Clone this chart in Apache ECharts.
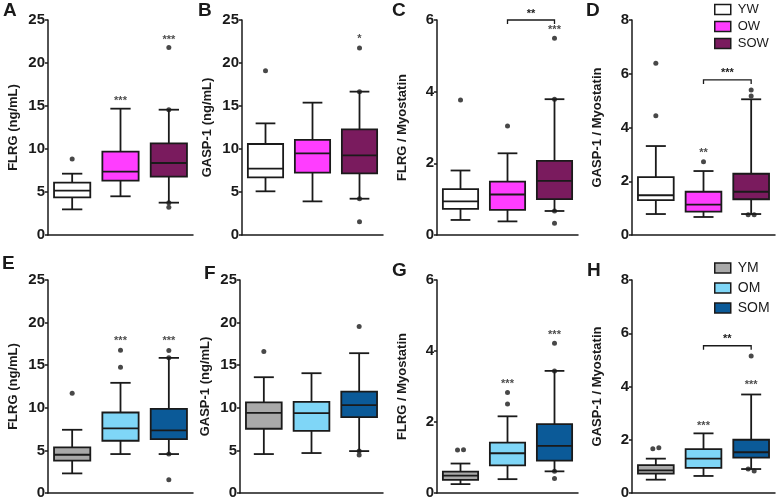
<!DOCTYPE html>
<html>
<head>
<meta charset="utf-8">
<script src="https://cdn.jsdelivr.net/npm/echarts@6/dist/echarts.min.js"></script>
<style>
html,body{margin:0;padding:0;background:#fff;}
#chart{width:778px;height:501px;}
</style>
</head>
<body>
<div id="chart"></div>
<script>
// ---------- DATA ----------
const groupsW = ['YW', 'OW', 'SOW'];
const groupsM = ['YM', 'OM', 'SOM'];
const panelLetters = ['A', 'B', 'C', 'D', 'E', 'F', 'G', 'H'];
const axisNames = ['FLRG (ng/mL)', 'GASP-1 (ng/mL)', 'FLRG / Myostatin', 'GASP-1 / Myostatin',
                   'FLRG (ng/mL)', 'GASP-1 (ng/mL)', 'FLRG / Myostatin', 'GASP-1 / Myostatin'];
const ticksConc = [0, 5, 10, 15, 20, 25];
const ticksFLRGRatio = [0, 2, 4, 6];
const ticksGASPRatio = [0, 2, 4, 6, 8];

// box values: [min whisker, Q1, median, Q3, max whisker]
const boxA = [[2.98, 4.38, 5.16, 6.09, 7.13], [4.5, 6.32, 7.36, 9.69, 14.69], [3.76, 6.78, 8.37, 10.66, 14.57]];
const boxB = [[5.08, 6.7, 7.71, 10.58, 12.98], [3.91, 7.25, 9.5, 11.05, 15.39], [4.22, 7.17, 9.26, 12.29, 16.67]];
const boxC = [[0.42, 0.73, 0.94, 1.28, 1.80], [0.38, 0.70, 1.13, 1.49, 2.28], [0.67, 1.0, 1.51, 2.07, 3.79]];
const boxD = [[0.78, 1.30, 1.48, 2.15, 3.31], [0.67, 0.87, 1.13, 1.61, 2.38], [0.78, 1.33, 1.61, 2.28, 5.05]];
const boxE = [[2.30, 3.79, 4.49, 5.35, 7.42], [4.57, 6.13, 7.58, 9.45, 12.93], [4.57, 6.33, 7.34, 9.88, 15.86]];
const boxF = [[4.57, 7.54, 9.41, 10.63, 13.59], [4.69, 7.30, 9.38, 10.70, 14.06], [4.92, 8.9, 10.31, 11.91, 16.41]];
const boxG = [[0.25, 0.37, 0.49, 0.60, 0.83], [0.39, 0.78, 1.12, 1.42, 2.16], [0.61, 0.91, 1.33, 1.94, 3.44]];
const boxH = [[0.5, 0.73, 0.85, 1.05, 1.29], [0.64, 0.94, 1.29, 1.65, 2.24], [0.9, 1.33, 1.53, 2.0, 3.7]];

// outliers: [group index, value]
const outA = [[0, 8.84], [2, 21.8], [2, 14.57], [2, 3.76], [2, 3.22]];
const outB = [[0, 19.1], [2, 21.74], [2, 16.67], [2, 4.22], [2, 1.55]];
const outC = [[0, 3.77], [1, 3.04], [2, 5.49], [2, 3.79], [2, 0.67], [2, 0.33]];
const outD = [[0, 6.39], [0, 4.44], [1, 2.73], [2, 5.40], [2, 5.17], [2, 0.75], [2, 0.75]];
const outE = [[0, 11.72], [1, 16.76], [1, 14.77], [2, 16.72], [2, 15.86], [2, 4.57], [2, 1.56]];
const outF = [[0, 16.6], [2, 19.53], [2, 4.92], [2, 4.45]];
const outG = [[0, 1.21], [0, 1.22], [1, 2.83], [1, 2.51], [2, 4.22], [2, 3.44], [2, 0.61], [2, 0.41]];
const outH = [[0, 1.66], [0, 1.70], [2, 5.15], [2, 0.90], [2, 0.83]];

// significance marks: [group index, value, text]
const starsA = [[1, 15.6, '***'], [2, 22.7, '***']];
const starsB = [[2, 22.8, '*']];
const starsC = [[2, 5.72, '***']];
const starsD = [[1, 3.06, '**']];
const starsE = [[1, 17.9, '***'], [2, 17.9, '***']];
const starsF = [];
const starsG = [[1, 3.08, '***'], [2, 4.44, '***']];
const starsH = [[1, 2.52, '***'], [2, 4.05, '***']];

// brackets: [from group, to group, value, text]
const bracketC = [[1, 2, 6.0, '**']];
const bracketD = [[1, 2, 5.77, '***']];
const bracketH = [[1, 2, 5.53, '**']];
const bracketsNone = [];

// ---------- STYLE ----------
const colorsW = ['#ffffff', '#ff3dff', '#7a1b5e'];
const colorsM = ['#a9a9a9', '#7fd6f7', '#0b5a98'];
const FONT = "Arial, 'Liberation Sans', sans-serif";
const INK = '#1a1a1a';

const boxes = [boxA, boxB, boxC, boxD, boxE, boxF, boxG, boxH];
const outs = [outA, outB, outC, outD, outE, outF, outG, outH];
const stars = [starsA, starsB, starsC, starsD, starsE, starsF, starsG, starsH];
const brackets = [bracketsNone, bracketsNone, bracketC, bracketD, bracketsNone, bracketsNone, bracketsNone, bracketH];
const tickSets = [ticksConc, ticksConc, ticksFLRGRatio, ticksGASPRatio, ticksConc, ticksConc, ticksFLRGRatio, ticksGASPRatio];

const grids = [
  {left: 48, top: 20, width: 145, height: 215},
  {left: 242, top: 20, width: 141, height: 215},
  {left: 437, top: 20, width: 141, height: 215},
  {left: 632, top: 20, width: 143, height: 215},
  {left: 48, top: 280, width: 145, height: 213},
  {left: 240, top: 280, width: 143, height: 213},
  {left: 437, top: 280, width: 141, height: 213},
  {left: 632, top: 280, width: 143, height: 213}
];
const titlePos = [[3, 1], [198, 1], [392, 1], [586, 1], [2, 254], [204, 264], [392, 261], [587, 261]];

// side-by-side placement of near-coincident outliers (visual only)
function outlierItems(list, range) {
  return list.map((d, i) => {
    let off = 0;
    for (let j = 0; j < list.length; j++) {
      if (j !== i && list[j][0] === d[0] && Math.abs(list[j][1] - d[1]) < range * 0.012) {
        off = j < i ? 3 : -3;
      }
    }
    return {value: d, symbolOffset: [off, 0]};
  });
}

function renderBox(params, api) {
  const x = api.value(0);
  const band = api.size([1, 0])[0];
  const bw = band * 0.75, cw = band * 0.42;
  const pMin = api.coord([x, api.value(1)]);
  const pQ1 = api.coord([x, api.value(2)]);
  const pMed = api.coord([x, api.value(3)]);
  const pQ3 = api.coord([x, api.value(4)]);
  const pMax = api.coord([x, api.value(5)]);
  const cx = pMed[0];
  const ln = {stroke: INK, lineWidth: 1.8};
  return {
    type: 'group',
    children: [
      {type: 'line', shape: {x1: cx, y1: pMax[1], x2: cx, y2: pQ3[1]}, style: ln},
      {type: 'line', shape: {x1: cx, y1: pQ1[1], x2: cx, y2: pMin[1]}, style: ln},
      {type: 'line', shape: {x1: cx - cw / 2, y1: pMax[1], x2: cx + cw / 2, y2: pMax[1]}, style: ln},
      {type: 'line', shape: {x1: cx - cw / 2, y1: pMin[1], x2: cx + cw / 2, y2: pMin[1]}, style: ln},
      {type: 'rect', shape: {x: cx - bw / 2, y: pQ3[1], width: bw, height: pQ1[1] - pQ3[1]},
        style: {fill: api.visual('color'), stroke: INK, lineWidth: 1.8}},
      {type: 'line', shape: {x1: cx - bw / 2, y1: pMed[1], x2: cx + bw / 2, y2: pMed[1]}, style: ln}
    ]
  };
}

function renderBracket(params, api) {
  const y = api.value(2);
  const p1 = api.coord([api.value(0), y]);
  const p2 = api.coord([api.value(1), y]);
  const ln = {stroke: INK, lineWidth: 1.3};
  return {
    type: 'group',
    children: [
      {type: 'polyline', shape: {points: [[p1[0], p1[1] + 4], [p1[0], p1[1]], [p2[0], p2[1]], [p2[0], p2[1] + 4]]}, style: Object.assign({fill: null}, ln)},
      {type: 'text', x: (p1[0] + p2[0]) / 2, y: p1[1] - 1,
        style: {text: api.value(3), fill: INK, font: 'bold 11px ' + FONT, textAlign: 'center', textVerticalAlign: 'bottom'}}
    ]
  };
}

const option = {
  animation: false,
  backgroundColor: '#ffffff',
  title: panelLetters.map((t, i) => ({
    text: t, left: titlePos[i][0], top: titlePos[i][1], padding: 0,
    textStyle: {fontFamily: FONT, fontWeight: 'bold', fontSize: 19, color: INK}
  })),
  legend: [
    {data: groupsW, orient: 'vertical', left: 714, top: 3, itemWidth: 16, itemHeight: 10, itemGap: 4,
      icon: 'rect', selectedMode: false, padding: 0,
      itemStyle: {borderColor: INK, borderWidth: 1.5},
      textStyle: {fontFamily: FONT, fontSize: 13, color: INK, padding: [0, 0, 0, 2]}},
    {data: groupsM, orient: 'vertical', left: 714, top: 261, itemWidth: 16, itemHeight: 10, itemGap: 6,
      icon: 'rect', selectedMode: false, padding: 0,
      itemStyle: {borderColor: INK, borderWidth: 1.5},
      textStyle: {fontFamily: FONT, fontSize: 14, color: INK, padding: [0, 0, 0, 2]}}
  ],
  grid: grids,
  xAxis: grids.map((g, i) => ({
    type: 'category', gridIndex: i, data: i < 4 ? groupsW : groupsM,
    axisLine: {lineStyle: {color: INK, width: 1.5}},
    axisTick: {show: false}, axisLabel: {show: false}, splitLine: {show: false}
  })),
  yAxis: grids.map((g, i) => {
    const t = tickSets[i];
    return {
      type: 'value', gridIndex: i, min: t[0], max: t[t.length - 1], interval: t[1] - t[0],
      axisLine: {show: true, lineStyle: {color: INK, width: 1.5}},
      axisTick: {show: true, length: 3, lineStyle: {color: INK, width: 1.5}},
      axisLabel: {margin: 3, fontFamily: FONT, fontWeight: 'bold', fontSize: 15, color: INK},
      splitLine: {show: false},
      name: axisNames[i], nameLocation: 'middle', nameGap: 28,
      nameTextStyle: {fontFamily: FONT, fontWeight: 'bold', fontSize: 13, color: INK}
    };
  }),
  series: []
};

for (let p = 0; p < 8; p++) {
  const names = p < 4 ? groupsW : groupsM;
  const cols = p < 4 ? colorsW : colorsM;
  const t = tickSets[p];
  for (let g = 0; g < 3; g++) {
    option.series.push({
      type: 'custom', name: names[g], xAxisIndex: p, yAxisIndex: p,
      itemStyle: {color: cols[g], borderColor: INK},
      renderItem: renderBox,
      encode: {x: 0, y: [1, 2, 3, 4, 5]},
      data: [[g].concat(boxes[p][g])]
    });
  }
  option.series.push({
    type: 'scatter', xAxisIndex: p, yAxisIndex: p, symbol: 'circle', symbolSize: 5,
    itemStyle: {color: INK}, z: 5,
    data: outlierItems(outs[p], t[t.length - 1] - t[0])
  });
  if (stars[p].length) {
    option.series.push({
      type: 'scatter', xAxisIndex: p, yAxisIndex: p, symbolSize: 1, z: 6,
      itemStyle: {color: 'rgba(0,0,0,0)'},
      label: {show: true, position: 'inside', formatter: (d) => d.value[2],
        fontFamily: FONT, fontWeight: 'bold', fontSize: 11, color: INK},
      data: stars[p]
    });
  }
  if (brackets[p].length) {
    option.series.push({
      type: 'custom', xAxisIndex: p, yAxisIndex: p, z: 6,
      renderItem: renderBracket,
      encode: {x: [0, 1], y: 2},
      data: brackets[p]
    });
  }
}

const chart = echarts.init(document.getElementById('chart'), null, {renderer: 'canvas'});
chart.setOption(option);
</script>
</body>
</html>
